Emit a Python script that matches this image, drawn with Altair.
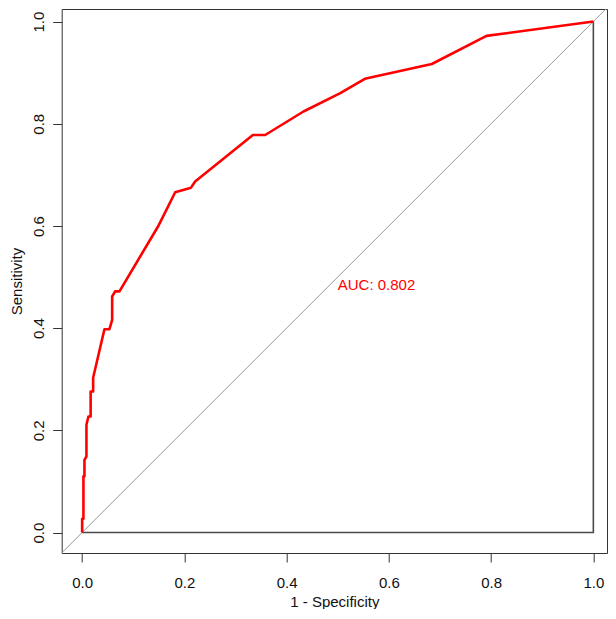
import altair as alt
import pandas as pd

# ROC curve points (1 - specificity, sensitivity)
fpr = [0.0, 0.0, 0.0025, 0.0025, 0.0045, 0.0045, 0.0084, 0.0084, 0.0123, 0.0166,
       0.0166, 0.0215, 0.0215, 0.0436, 0.0534, 0.0587, 0.0587, 0.0645, 0.073, 0.149,
       0.1526, 0.182, 0.213, 0.221, 0.334, 0.358, 0.433, 0.505, 0.553, 0.684,
       0.791, 1.0]
tpr = [0.0, 0.027, 0.027, 0.11, 0.11, 0.142, 0.149, 0.211, 0.227, 0.227,
       0.276, 0.276, 0.303, 0.398, 0.398, 0.416, 0.462, 0.472, 0.472, 0.600,
       0.607, 0.666, 0.675, 0.687, 0.778, 0.778, 0.824, 0.860, 0.888, 0.917,
       0.972, 1.0]

frame_x = [0.0, 1.0, 1.0]
frame_y = [0.0, 0.0, 1.0]
diag_x = [-0.04, 1.04]
diag_y = [-0.04, 1.04]
tick_vals = [0.0, 0.2, 0.4, 0.6, 0.8, 1.0]
auc_label = "AUC: 0.802"
auc_x, auc_y = 0.5, 0.484

roc = pd.DataFrame({"x": fpr, "y": tpr, "o": list(range(len(fpr)))})
frame = pd.DataFrame({"x": frame_x, "y": frame_y, "o": [0, 1, 2]})
diag = pd.DataFrame({"x": diag_x, "y": diag_y, "o": [0, 1]})
lab = pd.DataFrame({"x": [auc_x], "y": [auc_y], "t": [auc_label]})

FONT = "Liberation Sans"

xs = alt.Scale(domain=[-0.04, 1.0267], nice=False, zero=False)
ys = alt.Scale(domain=[-0.04, 1.0246], nice=False, zero=False)

xaxis = alt.Axis(values=tick_vals, format=".1f", title="1 - Specificity",
                 grid=False, domain=False, tickSize=9, tickColor="#333",
                 tickWidth=1, labelFont=FONT, labelFontSize=15, labelColor="#111",
                 labelPadding=13, labelFlush=False, labelOverlap=False,
                 titleFont=FONT, titleFontSize=15, titleFontWeight="normal",
                 titleColor="#111", titleBaseline="middle", titleY=48)
yaxis = alt.Axis(values=tick_vals, format=".1f", title="Sensitivity",
                 grid=False, domain=False, tickSize=9, tickColor="#333",
                 tickWidth=1, labelFont=FONT, labelFontSize=15, labelColor="#111",
                 labelAngle=270, labelAlign="center", labelBaseline="bottom",
                 labelPadding=6, labelFlush=False, labelOverlap=False,
                 titleFont=FONT, titleFontSize=15, titleFontWeight="normal",
                 titleColor="#111", titleAngle=270, titleAlign="center",
                 titleBaseline="middle", titleX=-45.5, titleY=272)

diag_layer = alt.Chart(diag).mark_line(color="#9a9a9a", strokeWidth=1, clip=True).encode(
    x=alt.X("x:Q", scale=xs, axis=xaxis),
    y=alt.Y("y:Q", scale=ys, axis=yaxis),
    order="o:O",
)
frame_layer = alt.Chart(frame).mark_line(color="#4a4a4a", strokeWidth=1.6, clip=True).encode(
    x=alt.X("x:Q", scale=xs, axis=xaxis),
    y=alt.Y("y:Q", scale=ys, axis=yaxis),
    order="o:O",
)
roc_layer = alt.Chart(roc).mark_line(color="#ff0000", strokeWidth=2.6, clip=True,
                                     strokeJoin="round").encode(
    x=alt.X("x:Q", scale=xs, axis=xaxis),
    y=alt.Y("y:Q", scale=ys, axis=yaxis),
    order="o:O",
)
text_layer = alt.Chart(lab).mark_text(color="#ff0000", font=FONT, fontSize=15,
                                      align="left", baseline="middle").encode(
    x=alt.X("x:Q", scale=xs, axis=xaxis),
    y=alt.Y("y:Q", scale=ys, axis=yaxis),
    text="t:N",
)

chart = alt.layer(diag_layer, frame_layer, roc_layer, text_layer).properties(
    width=545.3, height=544,
    autosize=alt.AutoSizeParams(type="none"),
    padding={"left": 53.7, "top": 1, "right": 1, "bottom": 56},
    background="white",
).configure_view(stroke="#333", strokeWidth=1)

chart.save("out.html", embed_options={"renderer": "svg", "actions": False})
